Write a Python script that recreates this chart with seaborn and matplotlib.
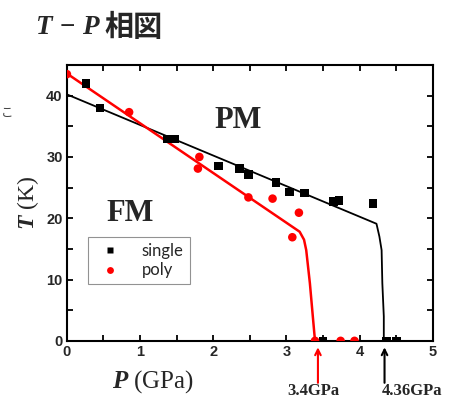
import pandas as pd
import matplotlib
matplotlib.use("Agg")
import matplotlib.pyplot as plt
import seaborn as sns
from matplotlib.ticker import MultipleLocator

# --- data ---
single_p = [0.26, 0.45, 1.37, 1.48, 2.07, 2.36, 2.48, 2.86, 3.04, 3.25, 3.64, 3.72, 4.18, 3.50, 4.37, 4.50]
single_t = [42.0, 38.0, 32.9, 32.9, 28.5, 28.1, 27.1, 25.8, 24.3, 24.1, 22.7, 22.9, 22.4, 0, 0, 0]
poly_p = [0.0, 0.85, 1.81, 1.79, 2.48, 2.81, 3.17, 3.08, 3.39, 3.74, 3.93]
poly_t = [43.5, 37.3, 30.0, 28.1, 23.4, 23.2, 20.9, 16.9, 0, 0, 0]

# guide lines (phase boundaries)
single_line_p = [0.0, 4.23, 4.27, 4.30, 4.31, 4.33, 4.33]
single_line_t = [40.2, 19.1, 17.0, 14.8, 9.4, 4.0, 0.0]
poly_line_p = [0.0, 3.18, 3.24, 3.27, 3.32, 3.36, 3.39]
poly_line_t = [43.6, 17.8, 16.5, 14.8, 9.4, 4.0, 0.0]

critical_p = [3.43, 4.34]
critical_labels = ["3.4GPa", "4.36GPa"]
critical_text_p = [3.37, 4.72]
critical_colors = ["red", "black"]

df = pd.concat([
    pd.DataFrame({"P": single_p, "T": single_t, "sample": "single"}),
    pd.DataFrame({"P": poly_p, "T": poly_t, "sample": "poly"}),
])

sns.set_style("ticks")
plt.rcParams["font.family"] = ["Liberation Sans", "DejaVu Sans"]
plt.rcParams["mathtext.fontset"] = "custom"
plt.rcParams["mathtext.it"] = "Liberation Serif:italic:bold"
plt.rcParams["mathtext.rm"] = "Liberation Serif:bold"

fig = plt.figure(figsize=(4.49, 4.01), dpi=100)
ax = fig.add_axes([0.149, 0.150, 0.815, 0.688])

sns.lineplot(x=single_line_p, y=single_line_t, sort=False, estimator=None,
             color="black", lw=1.3, ax=ax)
sns.lineplot(x=poly_line_p, y=poly_line_t, sort=False, estimator=None,
             color="red", lw=1.8, ax=ax)
sns.scatterplot(data=df, x="P", y="T", hue="sample", style="sample",
                palette={"single": "black", "poly": "red"},
                markers={"single": "s", "poly": "o"},
                s=38, edgecolor="none", ax=ax, zorder=3)

ax.set_xlim(0, 5)
ax.set_ylim(0, 45)
ax.xaxis.set_major_locator(MultipleLocator(1))
ax.xaxis.set_minor_locator(MultipleLocator(0.5))
ax.yaxis.set_major_locator(MultipleLocator(10))
ax.yaxis.set_minor_locator(MultipleLocator(5))
ax.tick_params(which="both", direction="in", top=True, right=True,
               length=4, width=1.3, color="black")
ax.tick_params(labelsize=10.5, pad=3)
for lab in ax.get_xticklabels() + ax.get_yticklabels():
    lab.set_fontweight("bold")
for sp in ax.spines.values():
    sp.set_linewidth(1.5)
    sp.set_color("black")

ax.set_xlabel(r"$P$ (GPa)", fontsize=18, family="Liberation Serif", labelpad=2)
ax.set_ylabel(r"$T$ (K)", fontsize=17, family="Liberation Serif", labelpad=4)
ax.xaxis.set_label_coords(0.235, -0.10)

ax.text(2.34, 35.9, "PM", fontsize=22, family="Liberation Serif",
        weight="bold", ha="center", va="center")
ax.text(0.86, 20.8, "FM", fontsize=22, family="Liberation Serif",
        weight="bold", ha="center", va="center")

# arrows marking the critical pressures, labels cut by the lower edge
for p, tp, lab, c in zip(critical_p, critical_text_p, critical_labels, critical_colors):
    ax.annotate("", xy=(p, -0.6), xytext=(p, -7.3),
                arrowprops=dict(arrowstyle="->", color=c, lw=1.5),
                annotation_clip=False)
    ax.text(tp, -9.55, lab, fontsize=12, family="Liberation Serif",
            weight="bold", ha="center", va="bottom", clip_on=False)

leg = ax.legend(loc="lower left", bbox_to_anchor=(0.057, 0.205),
                fancybox=False, frameon=True, borderpad=0.35,
                handletextpad=0.9, labelspacing=0.2, markerscale=0.8,
                borderaxespad=0.0,
                prop={"family": "Lato", "size": 12})
leg.get_frame().set_edgecolor("#777777")
leg.get_frame().set_linewidth(0.8)

fig.text(0.078, 0.932, r"$T\,-\,P$", fontsize=19.5, ha="left", va="center")
fig.text(0.233, 0.932, "相図", fontsize=21, family="Noto Sans CJK JP",
         weight="bold", ha="left", va="center")
fig.text(0.002, 0.718, "こ", fontsize=9, family="Noto Sans CJK JP",
         color="#444444", ha="left", va="center")

fig.savefig("out.png", dpi=100)
